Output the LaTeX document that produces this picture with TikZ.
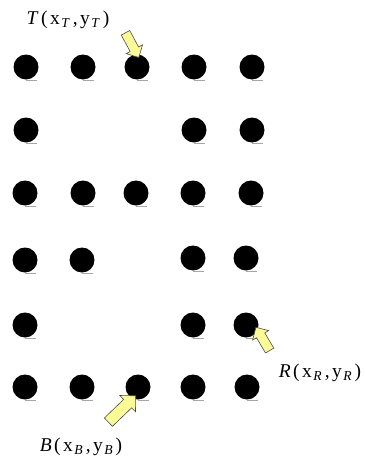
\documentclass[tikz,border=0pt]{standalone}
\usepackage{fontspec}
\setmainfont{Liberation Serif}
\usetikzlibrary{shapes.arrows}
\definecolor{pale}{RGB}{250,250,150}
\tikzset{
  dot/.style={circle,fill=black,inner sep=0pt,minimum size=25pt},
  tail/.style={draw=gray!70,line width=1pt},
  blk/.style={single arrow,draw=black!70,fill=pale,line width=0.6pt,inner xsep=0pt,inner ysep=4.5pt,
    single arrow head extend=4.5pt,single arrow tip angle=90},
  lbl/.style={font=\fontsize{19.5}{21}\selectfont,inner sep=0pt}
}
\newcommand{\sub}[1]{\hspace{1.5pt}\textsubscript{\textit{#1}}}
\newcommand{\gp}{\hspace{2.5pt}}
\newcommand{\pt}[2]{\textit{#1}\gp(\gp x\sub{#2}\gp,\gp y\sub{#2}\gp)}
\begin{document}
\begin{tikzpicture}[x=1pt,y=1pt]
\useasboundingbox (0,0) rectangle (366,-461);
% dots: rows and columns
\foreach \nm/\x/\y in {
 a1/26/67, a2/83/67, a3/137/67, a4/194/67, a5/252/67,
 b1/26/130, b4/194/130, b5/252/130,
 c1/25/193, c2/83/193, c3/136/193, c4/193/193, c5/251/193,
 d1/25/260, d2/82/260, d4/193/258, d5/246/258,
 e1/25/325, e4/193/325, e5/246/325,
 f1/25/387, f2/82/387, f3/138/387, f4/193/387, f5/247/387}{
  \node[dot] (\nm) at (\x,-\y) {};
  \draw[tail] ([yshift=-0.3pt]\nm.south) -- ++(11,0);
}
% arrows
\node[blk,minimum height=28pt,rotate=-61.6] (tarr) at (131,-43) {};
\node[blk,minimum height=27pt,rotate=120.6] (rarr) at (264,-341) {};
\node[blk,minimum height=38pt,inner ysep=5.5pt,single arrow head extend=5.5pt,rotate=44] (barr) at (120,-411) {};
% labels
\node[lbl] (tl) at (68,-20) {\pt{T}{T}};
\node[lbl] (rl) at (320,-373) {\pt{R}{R}};
\node[lbl] (bl) at (81,-447) {\pt{B}{B}};
\end{tikzpicture}
\end{document}
